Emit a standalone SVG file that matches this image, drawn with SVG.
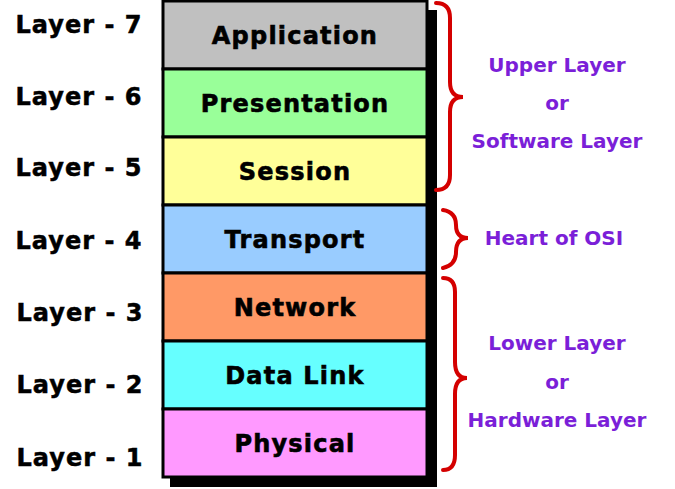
<svg xmlns="http://www.w3.org/2000/svg" width="675" height="489" viewBox="0 0 675 489">
<style>
.lbl{font-family:"DejaVu Sans",Verdana,sans-serif;font-weight:bold;font-size:24px;letter-spacing:1.2px;fill:#000;stroke:#000;stroke-width:0.6}
.ly{font-family:"DejaVu Sans",Verdana,sans-serif;font-weight:bold;font-size:24px;letter-spacing:1px;fill:#000;stroke:#000;stroke-width:0.5}
.side{font-family:"DejaVu Sans",Verdana,sans-serif;font-weight:bold;font-size:20px;fill:#7b1fd8}
.box{stroke:#000;stroke-width:3}
.brace{fill:none;stroke:#d40000;stroke-width:4;stroke-linecap:round}
</style>
<rect width="675" height="489" fill="#fff"/>
<rect x="170" y="10" width="267" height="477" fill="#000"/>
<g id="app"><rect class="box" x="163" y="1" width="264" height="68" fill="#c0c0c0"/><text class="lbl" x="295" y="44" text-anchor="middle">Application</text></g>
<g id="pres"><rect class="box" x="163" y="69" width="264" height="68" fill="#99ff99"/><text class="lbl" x="295" y="112" text-anchor="middle">Presentation</text></g>
<g id="sess"><rect class="box" x="163" y="137" width="264" height="68" fill="#ffff99"/><text class="lbl" x="295" y="180" text-anchor="middle">Session</text></g>
<g id="trans"><rect class="box" x="163" y="205" width="264" height="68" fill="#99ccff"/><text class="lbl" x="295" y="248" text-anchor="middle">Transport</text></g>
<g id="net"><rect class="box" x="163" y="273" width="264" height="68" fill="#ff9966"/><text class="lbl" x="295" y="316" text-anchor="middle">Network</text></g>
<g id="dl"><rect class="box" x="163" y="341" width="264" height="68" fill="#66ffff"/><text class="lbl" x="295" y="384" text-anchor="middle">Data Link</text></g>
<g id="phys"><rect class="box" x="163" y="409" width="264" height="68" fill="#ff99ff"/><text class="lbl" x="295" y="452" text-anchor="middle">Physical</text></g>
<g id="layers">
<text class="ly" x="79" y="33" text-anchor="middle">Layer - 7</text>
<text class="ly" x="79" y="105" text-anchor="middle">Layer - 6</text>
<text class="ly" x="79" y="176" text-anchor="middle">Layer - 5</text>
<text class="ly" x="79" y="249" text-anchor="middle">Layer - 4</text>
<text class="ly" x="80" y="321" text-anchor="middle">Layer - 3</text>
<text class="ly" x="80" y="393" text-anchor="middle">Layer - 2</text>
<text class="ly" x="80" y="466" text-anchor="middle">Layer - 1</text>
</g>
<g id="connectors">
<path class="brace" d="M436,3 Q450,3 450,18 L450,82 Q450,97 463,97 Q450,97 450,112 L450,175 Q450,190 436,190"/>
<path class="brace" d="M443,210 Q456,212 456,225 Q456,238 468,238 Q456,238 456,252 Q456,265 443,268"/>
<path class="brace" d="M443,278 Q455,278 455,292 L455,362 Q455,378 467,378 Q455,378 455,394 L455,455 Q455,470 443,470"/>
</g>
<g id="sidetext">
<text class="side" x="557" y="72" text-anchor="middle">Upper Layer</text>
<text class="side" x="557" y="110" text-anchor="middle">or</text>
<text class="side" x="557" y="148" text-anchor="middle">Software Layer</text>
<text class="side" x="554" y="245" text-anchor="middle">Heart of OSI</text>
<text class="side" x="557" y="350" text-anchor="middle">Lower Layer</text>
<text class="side" x="557" y="389" text-anchor="middle">or</text>
<text class="side" x="557" y="427" text-anchor="middle">Hardware Layer</text>
</g>
</svg>
